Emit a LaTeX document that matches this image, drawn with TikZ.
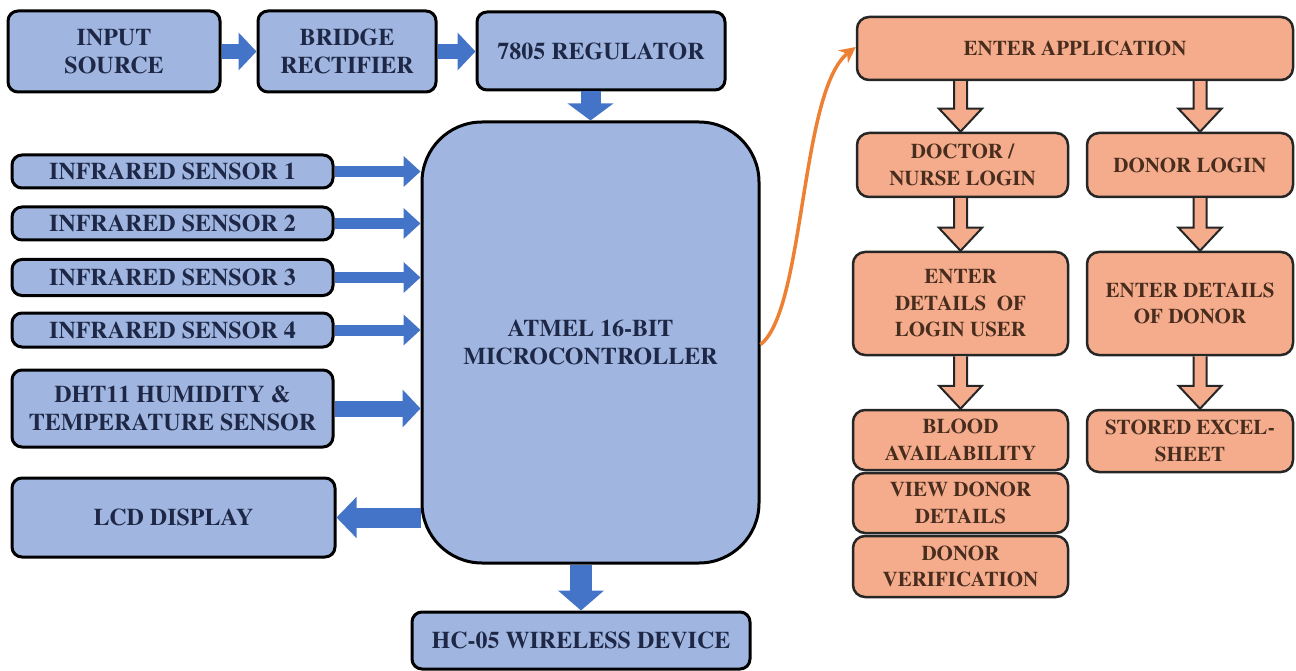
\documentclass[tikz,border=0pt]{standalone}
\usepackage{fontspec}
\newfontfamily\hwfont{texgyretermes}[Extension=.otf, UprightFont=*-bold]
\usetikzlibrary{arrows.meta,calc}

\definecolor{boxblue}{RGB}{160,182,224}
\definecolor{arrowblue}{RGB}{68,116,200}
\definecolor{boxorange}{RGB}{244,172,140}
\definecolor{lineorange}{RGB}{237,128,50}
\definecolor{navytext}{RGB}{30,40,70}
\definecolor{browntext}{RGB}{72,44,30}

\tikzset{
  hwbox/.style={draw=black, line width=3pt, rounded corners=10pt, fill=boxblue,
    text=navytext, font=\hwfont\fontsize{24}{28}\selectfont, align=center, inner sep=0pt},
  appbox/.style={draw=black!85, line width=2.5pt, rounded corners=12pt, fill=boxorange,
    text=browntext, font=\hwfont\fontsize{21}{26.5}\selectfont, align=center, inner sep=0pt},
  blockarrow/.style n args={3}{draw=arrowblue, line width=#1,
    -{Triangle[width=#2, length=#3]}},
  hollow/.style={draw=black!85, line width=2pt, fill=boxorange, line join=miter},
  linkcurve/.style={draw=lineorange, line width=3.5pt,
    -{Stealth[width=16pt, length=16pt]}}
}

% hollow downward block arrow from #1 to the tip at #2
\newcommand\hollowarrow[2]{%
  \draw[hollow] let \p1=#1, \p2=#2 in
    (\x1-6.5pt,\y1) -- (\x1-6.5pt,\y2+23pt) -- (\x1-21.5pt,\y2+23pt) --
    (\x2,\y2) -- (\x1+21.5pt,\y2+23pt) -- (\x1+6.5pt,\y2+23pt) -- (\x1+6.5pt,\y1);}

\begin{document}
\begin{tikzpicture}[x=1pt, y=-1pt]
\useasboundingbox (0,0) rectangle (1296,671);

% ---- hardware block diagram ----
\node[hwbox, minimum width=212, minimum height=81] (in)  at (114,51.5) {INPUT\\SOURCE};
\node[hwbox, minimum width=178, minimum height=81] (br)  at (347,51.5) {BRIDGE\\RECTIFIER};
\node[hwbox, minimum width=248, minimum height=78] (reg) at (601,51) {7805 REGULATOR};
\node[hwbox, rounded corners=60pt, minimum width=337, minimum height=441] (mcu) at (590.5,342.5)
  {ATMEL 16-BIT\\MICROCONTROLLER};
\node[hwbox, minimum width=321, minimum height=33] (s1) at (172.5,171.5) {INFRARED SENSOR 1};
\node[hwbox, minimum width=321, minimum height=33] (s2) at (172.5,223.5) {INFRARED SENSOR 2};
\node[hwbox, minimum width=321, minimum height=36] (s3) at (172.5,277.5) {INFRARED SENSOR 3};
\node[hwbox, minimum width=321, minimum height=34] (s4) at (172.5,330) {INFRARED SENSOR 4};
\node[hwbox, minimum width=321, minimum height=77] (dht) at (172.5,408.5)
  {DHT11 HUMIDITY \&\\TEMPERATURE SENSOR};
\node[hwbox, minimum width=323, minimum height=79] (lcd) at (173.5,517.5) {LCD DISPLAY};
\node[hwbox, minimum width=338, minimum height=57] (hc)  at (581,640.5) {HC-05 WIRELESS DEVICE};

\draw[blockarrow={15pt}{37pt}{18pt}] (in.east) -- (br.west);
\draw[blockarrow={15pt}{37pt}{18pt}] (br.east) -- (reg.west |- br.east);
\draw[blockarrow={20pt}{45pt}{17pt}] (reg.south -| mcu.north) -- (mcu.north);
\foreach \s in {s1,s2,s3,s4}
  \draw[blockarrow={11pt}{30pt}{17pt}] (\s.east) -- (mcu.west |- \s.east);
\draw[blockarrow={16pt}{37pt}{18pt}] (dht.east) -- (mcu.west |- dht.east);
\draw[blockarrow={20pt}{40pt}{20pt}] (mcu.west |- lcd.east) -- (lcd.east);
\draw[blockarrow={22pt}{45pt}{20pt}] (mcu.south -| hc.north) -- (hc.north);

% ---- application flow ----
\node[appbox, minimum width=436, minimum height=63] (app) at (1075,48.5) {ENTER APPLICATION};
\node[appbox, minimum width=211, minimum height=64] (doc) at (962.5,165) {DOCTOR /\\NURSE LOGIN};
\node[appbox, minimum width=206, minimum height=64] (dl)  at (1190,165) {DONOR LOGIN};
\node[appbox, minimum width=215, minimum height=103] (eld) at (960.5,303.5)
  {ENTER\\DETAILS\ \ OF\\LOGIN USER};
\node[appbox, minimum width=206, minimum height=103] (edd) at (1190,303.5)
  {ENTER DETAILS\\OF DONOR};
\node[appbox, minimum width=215, minimum height=60] (ba) at (960.5,440) {BLOOD\\AVAILABILITY};
\node[appbox, minimum width=215, minimum height=60] (vd) at (960.5,503) {VIEW DONOR\\DETAILS};
\node[appbox, minimum width=215, minimum height=61] (dv) at (960.5,566.5) {DONOR\\VERIFICATION};
\node[appbox, minimum width=206, minimum height=62] (se) at (1190,441) {STORED EXCEL-\\SHEET};

\hollowarrow{(app.south -| eld.north)}{(eld.north |- doc.north)}
\hollowarrow{($(app.south -| dl.north)+(10,0)$)}{($(dl.north)+(10,0)$)}
\hollowarrow{(doc.south -| eld.north)}{(eld.north)}
\hollowarrow{($(dl.south)+(10,0)$)}{($(edd.north)+(10,0)$)}
\hollowarrow{(eld.south)}{(ba.north)}
\hollowarrow{($(edd.south)+(10,0)$)}{($(se.north)+(10,0)$)}

% link from the controller to the application
\coordinate (mcuout) at ($(mcu.east)+(0,2)$);
\draw[linkcurve] (mcuout) .. controls (805,310) and (800,90) .. (app.west |- 0,47);
\end{tikzpicture}
\end{document}
